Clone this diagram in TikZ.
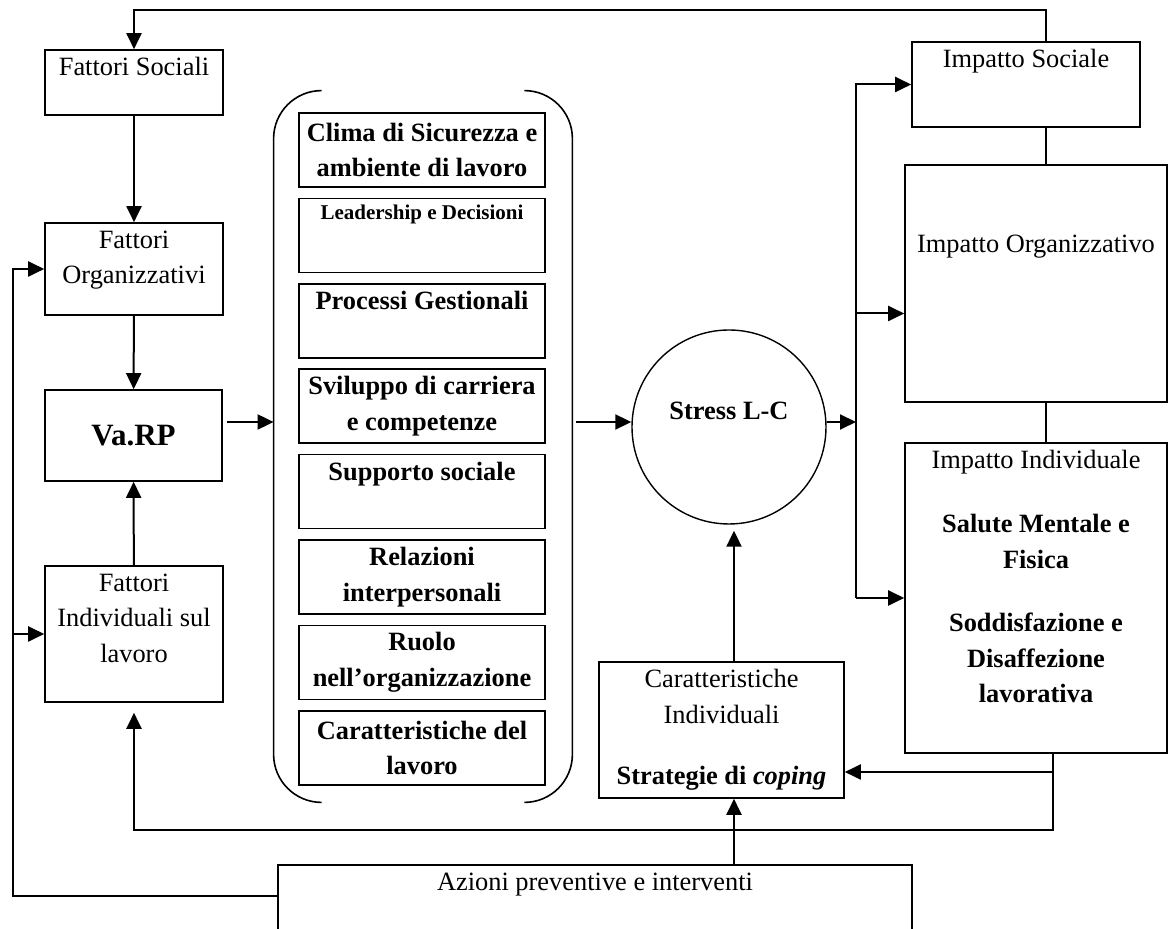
\documentclass[tikz,border=0pt]{standalone}
\usepackage{fontspec}
\setmainfont{Liberation Serif}
\usetikzlibrary{calc, positioning, arrows.meta}

\begin{document}
\begin{tikzpicture}[x = 0.5pt, y = -0.5pt,
  font = \fontsize{13.2}{17.8}\selectfont,
  box/.style = {draw, line width = .8pt, inner sep = 0pt},
  inbox/.style = {draw, line width = .8pt, inner sep = 1pt, align = center, minimum width = 123pt, minimum height = 37pt, font = \fontsize{13.2}{17.8}\selectfont\bfseries},
  lbl/.style = {anchor = north, align = center, inner sep = 4pt},
  arr/.style = {line width = 1pt, -{Triangle[length = 8pt, width = 7.5pt]}}]
\useasboundingbox (0,0) rectangle (1169,929);

% left column
\node[box, minimum width = 89pt, minimum height = 32.5pt] (fs) at (134,82.5) {};
\node[lbl] (fstxt) at (fs.north) {Fattori Sociali};
\node[box, minimum width = 89pt, minimum height = 46pt] (fo) at (134,269) {};
\node[lbl] (fotxt) at (fo.north) {Fattori\\Organizzativi};
\node[box, minimum width = 88.5pt, minimum height = 45.5pt, font = \fontsize{15.5}{17.8}\selectfont\bfseries] (vr) at (133.5,435.5) {Va.RP};
\node[box, minimum width = 89pt, minimum height = 68pt] (fi) at (134,634) {};
\node[lbl] (fitxt) at (fi.north) {Fattori\\Individuali sul\\lavoro};

% risk areas
\node[minimum width = 149pt, minimum height = 355.5pt, inner sep = 0pt] (grp) at (423,446.5) {};
\draw[line width = .8pt, rounded corners = 24pt] ($(grp.north west)+(48,0)$) -- (grp.north west) -- (grp.south west) -- ($(grp.south west)+(48,0)$);
\draw[line width = .8pt, rounded corners = 24pt] ($(grp.north east)+(-48,0)$) -- (grp.north east) -- (grp.south east) -- ($(grp.south east)+(-48,0)$);
\node[inbox] (clima) at (422,150) {Clima di Sicurezza e\\ambiente di lavoro};
\node[inbox, below = 4.9pt of clima] (lead) {};
\node[lbl, inner sep = 3.5pt, font = \fontsize{10.5}{12}\selectfont\bfseries] (leadtxt) at (lead.north) {Leadership e Decisioni};
\node[inbox, below = 4.9pt of lead] (proc) {};
\node[lbl, font = \fontsize{13.2}{17.8}\selectfont\bfseries] (proctxt) at (proc.north) {Processi Gestionali};
\node[inbox, below = 4.9pt of proc] (car) {Sviluppo di carriera\\e competenze};
\node[inbox, below = 4.9pt of car] (supp) {};
\node[lbl, font = \fontsize{13.2}{17.8}\selectfont\bfseries] (supptxt) at (supp.north) {Supporto sociale};
\node[inbox, below = 4.9pt of supp] (rel) {Relazioni\\interpersonali};
\node[inbox, below = 4.9pt of rel] (ruolo) {Ruolo\\nell’organizzazione};
\node[inbox, below = 4.9pt of ruolo] (lav) {Caratteristiche del\\lavoro};

% stress
\node[draw, circle, line width = .7pt, minimum size = 97pt, inner sep = 0pt] (st) at (729,427) {};
\node[font = \fontsize{13.2}{17.8}\selectfont\bfseries] (sttxt) at ($(st)+(0,-16)$) {Stress L-C};
\node[box, minimum width = 122.5pt, minimum height = 68pt] (ci) at (721.5,730) {};
\node[lbl] (citxt) at (ci.north) {Caratteristiche\\Individuali\\[12.5pt]\bfseries Strategie di \textit{coping}};

% right column
\node[box, minimum width = 114pt, minimum height = 42.5pt] (is) at (1026,84.5) {};
\node[lbl] (istxt) at (is.north) {Impatto Sociale};
\node[box, minimum width = 131pt, minimum height = 118.5pt] (io) at (1036,283.5) {};
\node (iotxt) at ($(io)+(0,-36.5)$) {Impatto Organizzativo};
\node[box, minimum width = 131pt, minimum height = 155pt] (ii) at (1036,598) {};
\node[lbl] (iitxt) at (ii.north) {Impatto Individuale\\[14pt]\bfseries Salute Mentale e\\\bfseries Fisica\\[14pt]\bfseries Soddisfazione e\\\bfseries Disaffezione\\\bfseries lavorativa};

% bottom
\node[box, minimum width = 317pt, minimum height = 47.5pt] (az) at (595,912.5) {};
\node[lbl] (aztxt) at (az.north) {Azioni preventive e interventi};

% connectors
\coordinate (roof) at (0,10);
\coordinate (low) at (0,830);
\coordinate (axis) at (0,422);
\coordinate (lx) at (13,0);
\coordinate (vline) at (734,0);
\coordinate (bus) at (856,0);
\coordinate (spine) at (1046,0);
\coordinate (drop) at (1053,0);
\coordinate (ioin) at ($(io.west)+(0,30)$);
\coordinate (ciin) at ($(ci.east)+(0,42)$);
\draw[arr] (spine |- is.north) -- (spine |- roof) -| (fs.north);
\draw[arr] (fs) -- (fo);
\draw[arr] (fo) -- (vr);
\draw[arr] (fi) -- (vr);
\draw[arr] ($(az.north west)+(0,32)$) -| (lx |- fo.west) -- (fo.west);
\draw[arr] (lx |- fi.west) -- (fi.west);
\draw[arr] ($(vr.east |- axis)+(4,0)$) -- (grp.west |- axis);
\draw[arr] ($(grp.east |- axis)+(4,0)$) -- (st.west |- axis);
\draw[arr] (st.east |- axis) -- (bus |- axis);
\draw[arr] (bus |- ii.west) |- (is.west);
\draw[arr] (bus |- ii.west) -- (ii.west);
\draw[arr] (bus |- ioin) -- (ioin);
\draw[line width = 1pt] (spine |- is.south) -- (spine |- io.north);
\draw[line width = 1pt] (spine |- io.south) -- (spine |- ii.north);
\draw[arr] (drop |- ii.south) |- (ciin);
\draw[arr, shorten >= 5pt] (drop |- ciin) |- (fi.south |- low) -- (fi.south);
\draw[arr] (vline |- az.north) -- (vline |- ci.south);
\draw[arr, shorten >= 3pt] (vline |- ci.north) -- (vline |- st.south);
\end{tikzpicture}
\end{document}
